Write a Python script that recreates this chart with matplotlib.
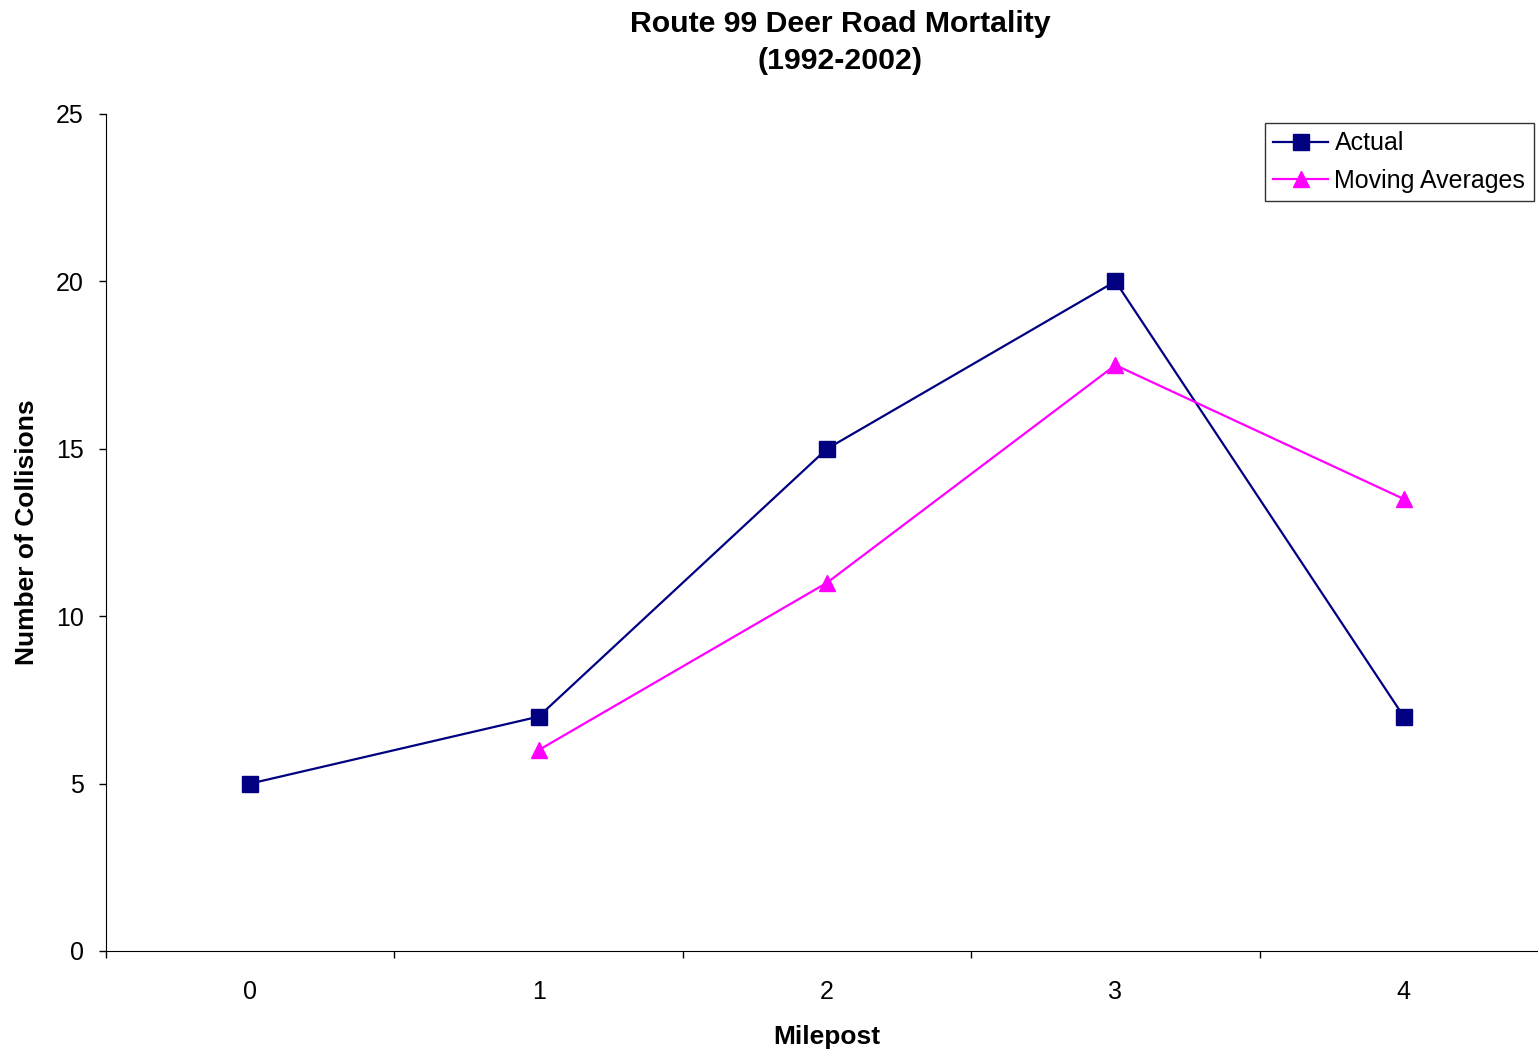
import matplotlib.pyplot as plt
from matplotlib.ticker import FixedLocator
import numpy as np

plt.rcParams['font.family'] = ['Liberation Sans', 'DejaVu Sans']

mileposts = [0, 1, 2, 3, 4]
actual = [5, 7, 15, 20, 7]
moving_avg = [np.nan, 6, 11, 17.5, 13.5]

fig = plt.figure(figsize=(15.38, 10.55), dpi=100)
ax = fig.add_axes([106/1538, 104/1055, (1548-106)/1538, (951-114)/1055])

ax.plot(mileposts, actual, '-s', color='#000080', linewidth=1.6, markersize=11.5,
        label='Actual')
ax.plot(mileposts, moving_avg, '-^', color='#FF00FF', linewidth=1.6, markersize=11.5,
        label='Moving Averages')

ax.set_xlim(-0.5, 4.5)
ax.set_ylim(0, 25)
ax.set_yticks([0, 5, 10, 15, 20, 25])
ax.set_xticks(mileposts)
ax.xaxis.set_minor_locator(FixedLocator([-0.5, 0.5, 1.5, 2.5, 3.5, 4.5]))
ax.tick_params(axis='x', which='major', length=0, labelsize=18, pad=21)
ax.tick_params(axis='x', which='minor', length=5, width=1, direction='out')
ax.tick_params(axis='y', length=5, width=1, direction='out', labelsize=18, pad=11)

ax.spines['top'].set_visible(False)
ax.spines['right'].set_visible(False)

ax.set_xlabel('Milepost', fontsize=19, fontweight='bold', labelpad=15)
ax.set_ylabel('Number of Collisions', fontsize=19, fontweight='bold', labelpad=12)

fig.text(840/1538, 1 - 42.5/1055, 'Route 99 Deer Road Mortality\n(1992-2002)',
         ha='center', va='center', fontsize=21.8, fontweight='bold', linespacing=1.42)

leg = ax.legend(loc='upper left', bbox_to_anchor=(1265/1538, 1 - 123/1055),
                bbox_transform=fig.transFigure, fontsize=18, frameon=True,
                fancybox=False, edgecolor='black', borderpad=0.33,
                handlelength=2.2, handletextpad=0.25, labelspacing=0.55,
                borderaxespad=0)
leg.get_frame().set_linewidth(1)

fig.savefig('out.png', dpi=100)
